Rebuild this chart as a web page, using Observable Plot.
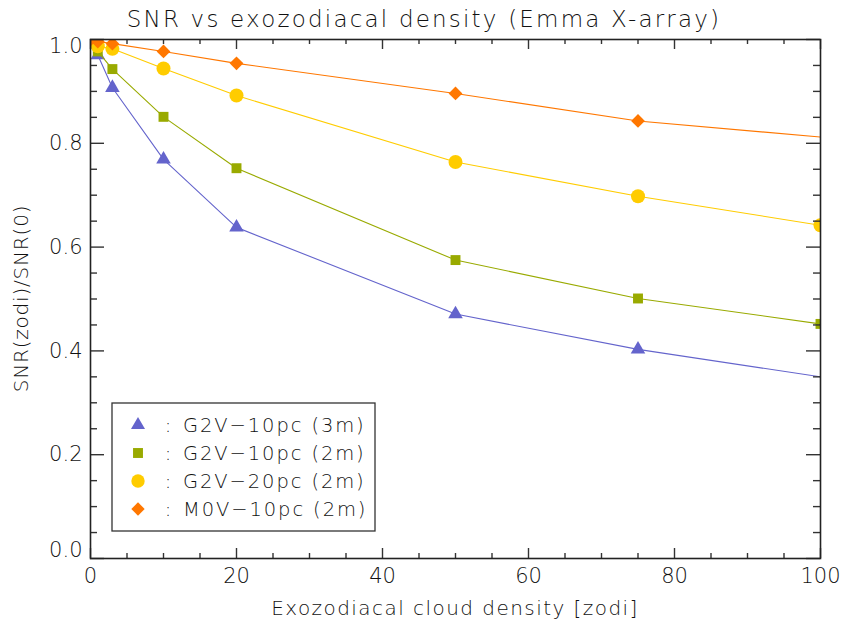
<!DOCTYPE html>
<html><head><meta charset="utf-8">
<script src="https://cdn.jsdelivr.net/npm/d3@7"></script>
<script src="https://cdn.jsdelivr.net/npm/@observablehq/plot@0.6"></script>
<style>body{margin:0;background:#fff}#chart{width:844px;height:625px}</style>
</head><body><div id="chart"></div>
<script>
// ---- data ----
const zodiA = [0, 1, 3, 10, 20, 50, 75, 100];
const zodiB = [0, 1, 3, 10, 20, 50, 75, 150]; // last point lies outside the plot and is clipped
const g2v10_3m = [1.0, 0.970, 0.907, 0.769, 0.638, 0.471, 0.403, 0.244];
const g2v10_2m = [1.0, 0.977, 0.943, 0.851, 0.752, 0.575, 0.501, 0.452];
const g2v20_2m = [1.0, 0.987, 0.982, 0.944, 0.892, 0.764, 0.698, 0.642];
const m0v10_2m = [1.0, 0.996, 0.992, 0.977, 0.954, 0.896, 0.843, 0.750];

const seriesNames = ["G2V−10pc (3m)", "G2V−10pc (2m)", "G2V−20pc (2m)", "M0V−10pc (2m)"];
const seriesX = [zodiB, zodiA, zodiA, zodiB];
const seriesY = [g2v10_3m, g2v10_2m, g2v20_2m, m0v10_2m];
const seriesColors = ["#6464cc", "#99aa00", "#ffcc00", "#ff7700"];
const seriesSymbols = ["triangle", "square", "circle", "diamond2"];
const seriesR = [5.4, 5.6, 7, 6.2];

const xMajor = [0, 20, 40, 60, 80, 100];
const xMinor = [5, 10, 15, 25, 30, 35, 45, 50, 55, 65, 70, 75, 85, 90, 95];
const yMajor = [0, 0.2, 0.4, 0.6, 0.8, 1.0];
const yMinor = [0.05, 0.1, 0.15, 0.25, 0.3, 0.35, 0.45, 0.5, 0.55, 0.65, 0.7, 0.75, 0.85, 0.9, 0.95];

const titleText = "SNR vs exozodiacal density (Emma X-array)";
const xLabel = "Exozodiacal cloud density [zodi]";
const yLabel = "SNR(zodi)/SNR(0)";

// ---- layout ----
const W = 844, H = 625, mL = 90, mR = 24, mT = 39, mB = 67;
const fW = W - mL - mR, fH = H - mT - mB;
const font = "DejaVu Sans";
const tickColor = "#333";
const ink = "#111";

const rows = seriesNames.map((name, i) =>
  seriesX[i].map((x, j) => ({series: name, x, y: seriesY[i][j]})));

const marks = [];
rows.forEach((data, i) => {
  marks.push(Plot.line(data, {x: "x", y: "y", stroke: seriesColors[i], strokeWidth: 1.1, clip: true}));
  marks.push(Plot.dot(data, {x: "x", y: "y", fill: seriesColors[i], stroke: "none",
    symbol: () => seriesSymbols[i], r: seriesR[i], clip: true}));
});
// inward ticks on all four sides
const tk = {stroke: tickColor, strokeWidth: 1.4};
const fmtY = d3.format(".1f");
const yEnds = [yMajor[0], yMajor[yMajor.length - 1]];
const yMid = yMajor.slice(1, -1);
const ylab = {text: d => fmtY(d), frameAnchor: "left", textAnchor: "end", dx: -8,
  fontSize: 21, fill: ink};
marks.push(
  Plot.ruleX(xMajor, {x: d => d, insetTop: fH - 10, ...tk}),
  Plot.ruleX(xMajor, {x: d => d, insetBottom: fH - 10, ...tk}),
  Plot.ruleX(xMinor, {x: d => d, insetTop: fH - 5, ...tk}),
  Plot.ruleX(xMinor, {x: d => d, insetBottom: fH - 5, ...tk}),
  Plot.ruleY(yMajor, {y: d => d, insetRight: fW - 14, ...tk}),
  Plot.ruleY(yMajor, {y: d => d, insetLeft: fW - 14, ...tk}),
  Plot.ruleY(yMinor, {y: d => d, insetRight: fW - 7, ...tk}),
  Plot.ruleY(yMinor, {y: d => d, insetLeft: fW - 7, ...tk}),
  Plot.frame({stroke: "#222", strokeWidth: 1.6}),
  Plot.text(yMid, {y: d => d, ...ylab}),
  Plot.text([yEnds[0]], {y: d => d, ...ylab, dy: -8}),
  Plot.text([yEnds[1]], {y: d => d, ...ylab, dy: 7})
);

const svg = Plot.plot({
  width: W, height: H,
  marginLeft: mL, marginRight: mR, marginTop: mT, marginBottom: mB,
  style: {fontFamily: font, fontSize: "21px", color: ink, background: "white", fontWeight: 300},
  x: {domain: [0, 100], ticks: xMajor, tickFormat: d => String(d), tickSize: 0, tickPadding: 10, label: null},
  y: {domain: [0, 1], axis: null},
  marks
});
document.getElementById("chart").appendChild(svg);

const s = d3.select(svg);
const txt = (x, y, t, size, opts = {}) => s.append("text")
  .attr("x", x).attr("y", y).attr("text-anchor", opts.anchor || "middle")
  .attr("font-family", font).attr("font-size", size).attr("font-weight", 300)
  .attr("fill", ink).attr("letter-spacing", opts.ls || 0)
  .attr("dy", opts.dy || null)
  .attr("transform", opts.rotate ? `rotate(-90,${x},${y})` : null).text(t);

txt(424, 27, titleText, 23, {ls: 2.2});
txt(mL + fW / 2, 615, xLabel, 20, {ls: 1.45});
txt(28, mT + fH / 2, yLabel, 20, {ls: 0.8, rotate: true});

// legend
const lg = s.append("g");
lg.append("rect").attr("x", 112).attr("y", 403).attr("width", 263).attr("height", 128)
  .attr("fill", "white").attr("stroke", "#333").attr("stroke-width", 1.3);
const symMap = {triangle: d3.symbolTriangle, square: d3.symbolSquare, circle: d3.symbolCircle, diamond2: d3.symbolDiamond2};
const legR = [5.2, 5.6, 6.7, 6];
seriesNames.forEach((name, i) => {
  const y = 425 + i * 28;
  lg.append("path").attr("transform", `translate(138,${y})`)
    .attr("d", d3.symbol(symMap[seriesSymbols[i]], Math.PI * legR[i] * legR[i])())
    .attr("fill", seriesColors[i]);
  const lt = (x, t, anchor, ls) => lg.append("text").attr("x", x).attr("y", y).attr("dy", "0.36em")
    .attr("text-anchor", anchor)
    .attr("font-family", font).attr("font-size", 19.5).attr("font-weight", 300).attr("fill", ink)
    .attr("letter-spacing", ls).text(t);
  lt(168, ":", "middle", 0);
  lt(183, name, "start", 1.9);
});
</script></body></html>
